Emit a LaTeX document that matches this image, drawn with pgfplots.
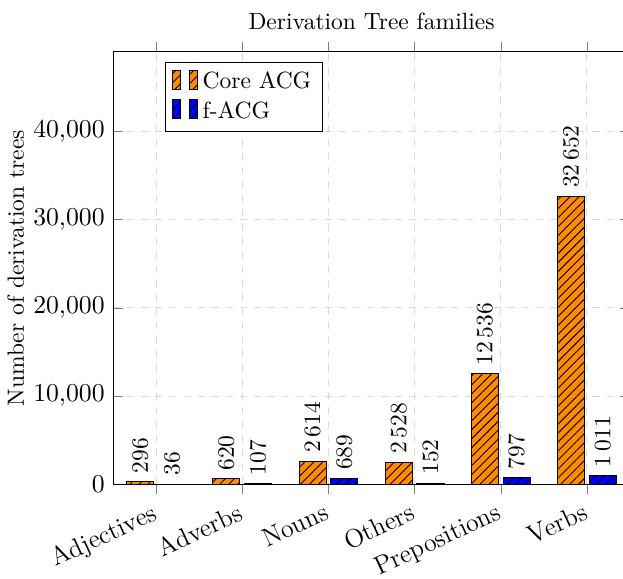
\documentclass[border=0pt]{standalone}
\usepackage{pgfplots}
\pgfplotsset{compat=1.18}
\usetikzlibrary{patterns,patterns.meta,calc}
\definecolor{barorange}{RGB}{255,140,0}
\begin{document}
\begin{tikzpicture}
\begin{axis}[
  name=ax,
  scale only axis,
  width=220pt, height=184pt,
  ybar=2pt,
  bar width=11.5pt,
  xmin=-0.5, xmax=5.5,
  ymin=0, ymax=49000,
  xtick={0,1,2,3,4,5},
  xticklabels={Adjectives,Adverbs,Nouns,Others,Prepositions,Verbs},
  tick label style={font=\fontsize{11}{13}\selectfont},
  x tick label style={rotate=25, anchor=north east, yshift=1.5pt},
  ytick={0,10000,20000,30000,40000},
  scaled y ticks=false,
  grid=major,
  major grid style={dashed, gray!30},
  title={Derivation Tree families},
  ylabel={Number of derivation trees},
  ylabel shift={-3pt},
  nodes near coords={\pgfmathprintnumber[1000 sep={\,}]{\pgfplotspointmeta}},
  every node near coord/.append style={rotate=90, anchor=west, black},
  legend style={at={(0.1,0.977)}, anchor=north west, legend cell align=left},
  legend image code/.code={
    \draw[#1] (0pt,-3pt) rectangle (3.5pt,5pt);
    \draw[#1] (7pt,-3pt) rectangle (10.5pt,5pt);
  },
]
\addplot[draw=black, fill=barorange, postaction={pattern={Lines[angle=45,distance=2.7pt,line width=0.4pt]}}] coordinates {
 (0,296) (1,620) (2,2614) (3,2528) (4,12536) (5,32652)};
\addplot[draw=black, fill=blue, postaction={pattern={Lines[angle=45,distance=2.7pt,line width=0.4pt]}}] coordinates {
 (0,36) (1,107) (2,689) (3,152) (4,797) (5,1011)};
\legend{Core ACG, f-ACG}
\end{axis}
\pgfresetboundingbox
\path[use as bounding box] ($(ax.south west)+(-48.1pt,-40pt)$) rectangle ($(ax.north west)+(217pt,22.1pt)$);
\end{tikzpicture}
\end{document}
